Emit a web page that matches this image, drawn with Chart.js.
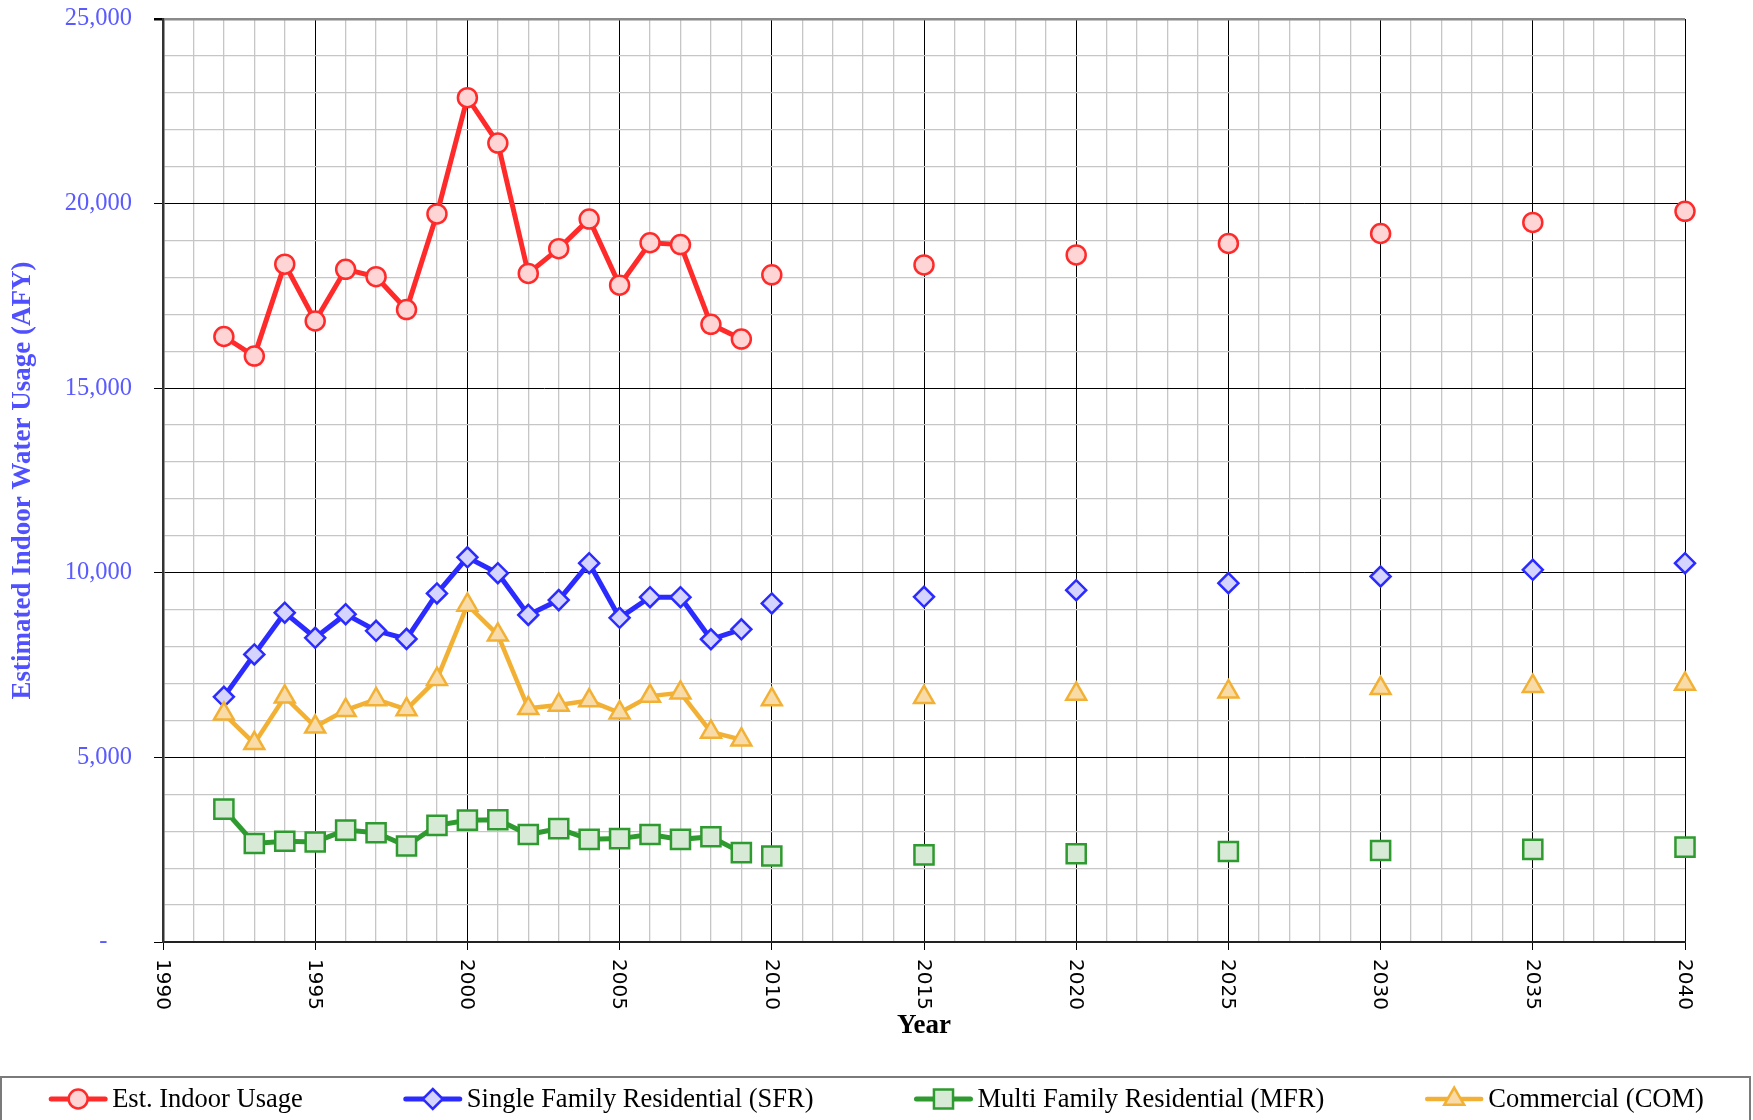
<!DOCTYPE html>
<html>
<head>
<meta charset="utf-8">
<script src="https://cdn.jsdelivr.net/npm/chart.js@4.4.1/dist/chart.umd.min.js"></script>
<style>
html,body{margin:0;padding:0;background:#fff;}
#wrap{width:1753px;height:1120px;position:relative;}
canvas{display:block;}
</style>
</head>
<body>
<div id="wrap"><canvas id="c" width="1753" height="1120"></canvas></div>
<script>
// ---------------- DATA ----------------
const histYears = [1992,1993,1994,1995,1996,1997,1998,1999,2000,2001,2002,2003,2004,2005,2006,2007,2008,2009];
const projYears = [2010,2015,2020,2025,2030,2035,2040];

const estHist = [16400,15870,18360,16820,18220,18020,17130,19720,22870,21640,18110,18780,19580,17790,18940,18890,16730,16330];
const estProj = [18070,18340,18610,18920,19190,19490,19790];

const sfrHist = [6640,7790,8920,8240,8880,8430,8210,9440,10420,9990,8860,9260,10260,8780,9340,9340,8200,8470];
const sfrProj = [9170,9350,9530,9720,9900,10080,10260];

const mfrHist = [3600,2670,2730,2710,3030,2960,2600,3160,3300,3310,2910,3070,2780,2800,2910,2780,2850,2420];
const mfrProj = [2330,2360,2390,2450,2480,2510,2570];

const comHist = [6180,5380,6640,5830,6280,6570,6300,7120,9130,8320,6330,6420,6540,6210,6660,6750,5690,5480];
const comProj = [6570,6630,6720,6780,6870,6930,6990];

const seriesLabels = ['Est. Indoor Usage','Single Family Residential (SFR)','Multi Family Residential (MFR)','Commercial (COM)'];
const xTitle = 'Year';
const yTitle = 'Estimated Indoor Water Usage (AFY)';

// ---------------- STYLES ----------------
const styles = [
  {line:'#ff2b2b', fill:'#ffd4d4', shape:'circle',   r:9.5,  lw:5,   order:3},
  {line:'#2b2bff', fill:'#d4d4ff', shape:'rectRot',  r:10,   lw:5,   order:2},
  {line:'#2f9a2f', fill:'#d6ead6', shape:'rect',     r:13.5, lw:5,   order:1},
  {line:'#f2b134', fill:'#f9dba8', shape:'triangle', r:11.5, lw:4.5, order:0}
];

function pts(xs, ys){ return xs.map((x,i)=>({x:x, y:ys[i]})); }

const hist = [estHist, sfrHist, mfrHist, comHist];
const proj = [estProj, sfrProj, mfrProj, comProj];

const datasets = [];
hist.forEach((h,i)=>{
  const s = styles[i];
  datasets.push({
    label: seriesLabels[i], legendIndex: i,
    data: pts(histYears, h),
    borderColor: s.line, backgroundColor: s.fill, borderWidth: s.lw,
    pointStyle: s.shape, pointRadius: s.r, pointBackgroundColor: s.fill,
    pointBorderColor: s.line, pointBorderWidth: 2.5, tension: 0, order: s.order, clip: false
  });
  datasets.push({
    label: seriesLabels[i] + ' (projection)',
    data: pts(projYears, proj[i]), showLine: false,
    borderColor: s.line, backgroundColor: s.fill, borderWidth: s.lw,
    pointStyle: s.shape, pointRadius: s.r, pointBackgroundColor: s.fill,
    pointBorderColor: s.line, pointBorderWidth: 2.5, order: s.order, clip: false
  });
});

// ---------------- PLUGINS ----------------
const bgPlugin = {
  id:'bg',
  beforeDraw(c){ const ctx=c.ctx; ctx.save(); ctx.fillStyle='#fff'; ctx.fillRect(0,0,c.width,c.height); ctx.restore(); }
};

const xLabelPlugin = {
  id:'xLabels',
  afterDraw(c){
    const s = c.scales.x, ctx = c.ctx;
    ctx.save();
    ctx.font = '20px "DejaVu Sans"';
    ctx.fillStyle = '#000';
    ctx.textAlign = 'left';
    ctx.textBaseline = 'middle';
    s.ticks.forEach(t=>{
      if (Math.round(t.value) % 5 !== 0) return;
      const px = s.getPixelForValue(t.value);
      ctx.save();
      ctx.translate(px - 1, s.top + 17);
      ctx.rotate(Math.PI/2);
      ctx.fillText(String(Math.round(t.value)), 0, 0);
      ctx.restore();
    });
    ctx.restore();
  }
};

function drawMarker(ctx, shape, x, y, r, fill, stroke, bw){
  ctx.beginPath();
  if (shape === 'circle') {
    ctx.arc(x, y, r, 0, Math.PI*2);
  } else if (shape === 'rect') {
    const h = r*Math.SQRT1_2;
    ctx.rect(x-h, y-h, 2*h, 2*h);
  } else if (shape === 'rectRot') {
    ctx.moveTo(x, y-r); ctx.lineTo(x+r, y); ctx.lineTo(x, y+r); ctx.lineTo(x-r, y); ctx.closePath();
  } else if (shape === 'triangle') {
    ctx.moveTo(x, y-r);
    ctx.lineTo(x + r*Math.sin(2*Math.PI/3), y - r*Math.cos(2*Math.PI/3));
    ctx.lineTo(x + r*Math.sin(4*Math.PI/3), y - r*Math.cos(4*Math.PI/3));
    ctx.closePath();
  }
  ctx.fillStyle = fill; ctx.fill();
  ctx.lineWidth = bw; ctx.strokeStyle = stroke; ctx.stroke();
}

const legendPlugin = {
  id:'customLegend',
  afterDraw(c){
    const ctx = c.ctx;
    ctx.save();
    ctx.strokeStyle = '#7a7a7a'; ctx.lineWidth = 2;
    ctx.strokeRect(1, 1077, 1749, 44);
    ctx.font = '26.5px "Liberation Serif"';
    const items = c.data.datasets.filter(d=>d.legendIndex !== undefined).sort((a,b)=>a.legendIndex-b.legendIndex);
    const sampleW = 58, gapT = 5, gapI = 101;
    const widths = items.map(d=>sampleW + gapT + ctx.measureText(d.label).width);
    const total = widths.reduce((a,b)=>a+b,0) + gapI*(items.length-1);
    let x = (c.width - total)/2;
    const y = 1099;
    items.forEach((d,i)=>{
      ctx.beginPath();
      ctx.lineCap = 'round';
      ctx.strokeStyle = d.borderColor; ctx.lineWidth = d.borderWidth;
      ctx.moveTo(x + 2, y); ctx.lineTo(x + sampleW - 2, y); ctx.stroke();
      ctx.lineCap = 'butt';
      drawMarker(ctx, d.pointStyle, x + sampleW/2, y, d.pointRadius, d.pointBackgroundColor, d.pointBorderColor, d.pointBorderWidth);
      ctx.fillStyle = '#000'; ctx.textAlign = 'left'; ctx.textBaseline = 'middle';
      ctx.fillText(d.label, x + sampleW + gapT, y + 1);
      x += widths[i] + gapI;
    });
    ctx.restore();
  }
};

// ---------------- CHART ----------------
const minorGrid = '#c6c6c6';
new Chart(document.getElementById('c'), {
  type: 'line',
  data: { datasets: datasets },
  options: {
    responsive: false,
    animation: false,
    devicePixelRatio: 1,
    layout: { padding: { top: 19, right: 68, bottom: 46, left: 0 } },
    plugins: { legend: { display: false }, tooltip: { enabled: false } },
    scales: {
      x: {
        type: 'linear', min: 1990, max: 2040,
        ticks: { stepSize: 1, display: false, autoSkip: false },
        grid: {
          color: c => (Math.round(c.tick.value) % 5 === 0 ? '#000' : minorGrid),
          lineWidth: c => (Math.round(c.tick.value) % 5 === 0 ? 1 : 1.3),
          tickLength: 8,
          tickColor: c => (Math.round(c.tick.value) % 5 === 0 ? '#000' : 'rgba(0,0,0,0)')
        },
        border: { color: '#222', width: 2 },
        title: {
          display: true, text: xTitle, color: '#000',
          font: { family: 'Liberation Serif', size: 27, weight: 'bold' },
          padding: { top: 0, bottom: 32 }
        },
        afterFit(s){ s.height = 132; s.paddingLeft = 0; s.paddingRight = 0; }
      },
      y: {
        min: 0, max: 25000,
        ticks: {
          stepSize: 1000, autoSkip: false, padding: 22, color: '#5a5aff',
          font: { family: 'Liberation Serif', size: 24.5 },
          callback: v => (v === 0 ? '-    ' : (v % 5000 === 0 ? v.toLocaleString('en-US') : ''))
        },
        grid: {
          color: c => (c.tick.value === 25000 ? '#8a8a8a' : (c.tick.value % 5000 === 0 ? '#000' : minorGrid)),
          lineWidth: c => (c.tick.value === 25000 ? 2.5 : (c.tick.value % 5000 === 0 ? 1 : 1.3)),
          tickLength: 9,
          tickColor: c => (c.tick.value % 5000 === 0 ? '#000' : 'rgba(0,0,0,0)')
        },
        border: { color: '#333', width: 2.5 },
        title: {
          display: true, text: yTitle, color: '#5050ff',
          font: { family: 'Liberation Serif', size: 27, weight: 'bold' },
          padding: { top: 7, bottom: 0 }
        },
        afterFit(s){ s.width = 163; s.paddingTop = 0; s.paddingBottom = 0; }
      }
    }
  },
  plugins: [bgPlugin, xLabelPlugin, legendPlugin]
});
</script>
</body>
</html>
